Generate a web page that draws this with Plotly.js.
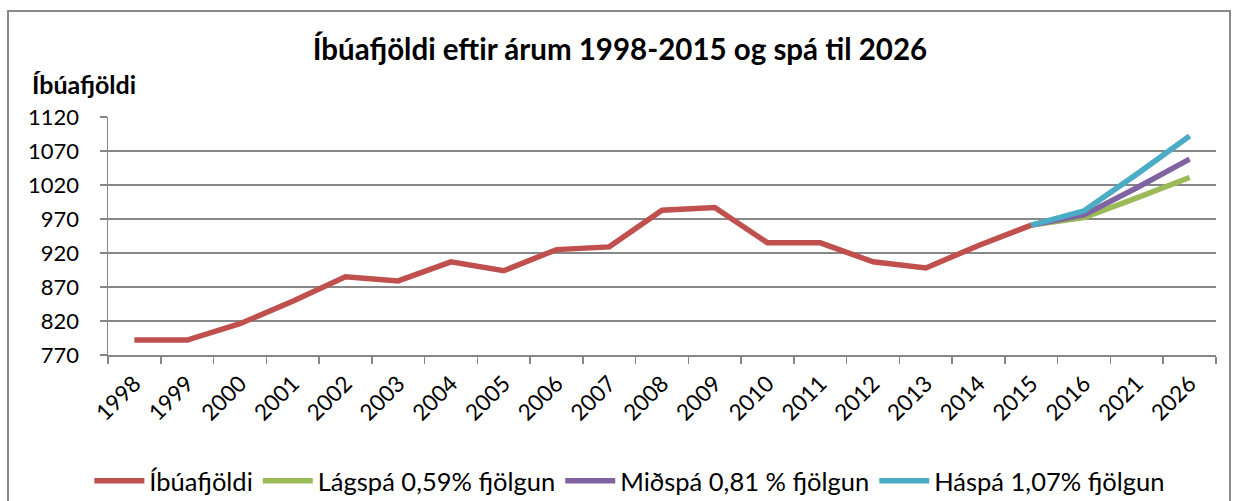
<!DOCTYPE html>
<html>
<head>
<meta charset="utf-8">
<script src="https://cdn.plot.ly/plotly-3.0.1.min.js"></script>
<style>
  html, body { margin: 0; padding: 0; background: #fff; overflow: hidden; }
  #chart { position: absolute; left: 0; top: 0; width: 1240px; height: 501px; }
  #frame { position: absolute; left: 7px; top: 10px; width: 1224px; height: 530px;
           border: 2px solid #8a8a8a; pointer-events: none; box-sizing: border-box; }
</style>
</head>
<body>
<div id="chart"></div>
<div id="frame"></div>
<script>
// ---- data ----
const categories = ['1998','1999','2000','2001','2002','2003','2004','2005','2006','2007','2008','2009','2010','2011','2012','2013','2014','2015','2016','2021','2026'];
const histYears = ['1998','1999','2000','2001','2002','2003','2004','2005','2006','2007','2008','2009','2010','2011','2012','2013','2014','2015'];
const ibuafjoldi = [792, 792, 816, 849, 885, 879, 907, 894, 925, 929, 983, 987, 935, 935, 907, 898, 931, 961];
const forecastYears = ['2015','2016','2021','2026'];
const lagspa = [961, 972, 1001, 1031];
const midspa = [961, 976, 1016, 1058];
const haspa  = [961, 982, 1036, 1092];
const yTicks = [770, 820, 870, 920, 970, 1020, 1070, 1120];
const seriesNames = ['Íbúafjöldi', 'Lágspá 0,59% fjölgun', 'Miðspá 0,81 % fjölgun', 'Háspá 1,07% fjölgun'];
const titleText = 'Íbúafjöldi eftir árum 1998-2015 og spá til 2026';
const yTitleText = 'Íbúafjöldi';

const FONT = 'Lato, "Open Sans", sans-serif';
const gridCol = '#878787';

const traces = [
  { x: histYears, y: ibuafjoldi, name: seriesNames[0], mode: 'lines', type: 'scatter',
    line: { color: '#C0504D', width: 5.5 } },
  { x: forecastYears, y: lagspa, name: seriesNames[1], mode: 'lines', type: 'scatter',
    line: { color: '#9BBB59', width: 5.5 } },
  { x: forecastYears, y: midspa, name: seriesNames[2], mode: 'lines', type: 'scatter',
    line: { color: '#8064A2', width: 5.5 } },
  { x: forecastYears, y: haspa, name: seriesNames[3], mode: 'lines', type: 'scatter',
    line: { color: '#4BACC6', width: 5.5 } }
];

const layout = {
  width: 1240, height: 501,
  margin: { l: 108, r: 24, t: 117, b: 146, autoexpand: false },
  paper_bgcolor: 'rgba(0,0,0,0)', plot_bgcolor: '#fff',
  font: { family: FONT, size: 22, color: '#000' },
  title: { text: '<b>' + titleText + '</b>', x: 0.5, xref: 'container', y: 0.9, yref: 'container',
           yanchor: 'middle', font: { family: FONT, size: 29.5, color: '#000' } },
  xaxis: {
    type: 'category', categoryorder: 'array', categoryarray: categories,
    range: [-0.5, categories.length - 0.5], automargin: false,
    tickangle: -45, tickson: 'boundaries', ticks: 'outside', ticklen: 7, tickcolor: gridCol, tickwidth: 1.5,
    showline: true, linecolor: gridCol, linewidth: 1.5, showgrid: false, zeroline: false,
    ticklabelstandoff: 5,
    tickfont: { family: FONT, size: 22.5 }, fixedrange: true
  },
  yaxis: {
    range: [770, 1120], tickvals: yTicks, ticktext: yTicks.map(String), automargin: false,
    ticks: 'outside', ticklen: 7, tickcolor: gridCol, tickwidth: 1.5,
    showline: true, linecolor: gridCol, linewidth: 1.5,
    showgrid: true, gridcolor: gridCol, gridwidth: 1.5, zeroline: false,
    ticklabelstandoff: 16,
    tickfont: { family: FONT, size: 22 }, fixedrange: true
  },
  showlegend: true,
  legend: { orientation: 'h', x: 0.471, xanchor: 'center', y: -0.53, yanchor: 'middle',
            itemwidth: 50, font: { family: FONT, size: 25.5 }, traceorder: 'normal', tracegroupgap: 0 },
  annotations: [
    { text: '<b>' + yTitleText + '</b>', xref: 'paper', yref: 'paper',
      x: (30 - 108) / 1108, y: (355 - 84) / 238, xanchor: 'left', yanchor: 'middle',
      showarrow: false, font: { family: FONT, size: 25, color: '#000' } }
  ]
};

Plotly.newPlot('chart', traces, layout, { displayModeBar: false, staticPlot: true });
</script>
</body>
</html>
